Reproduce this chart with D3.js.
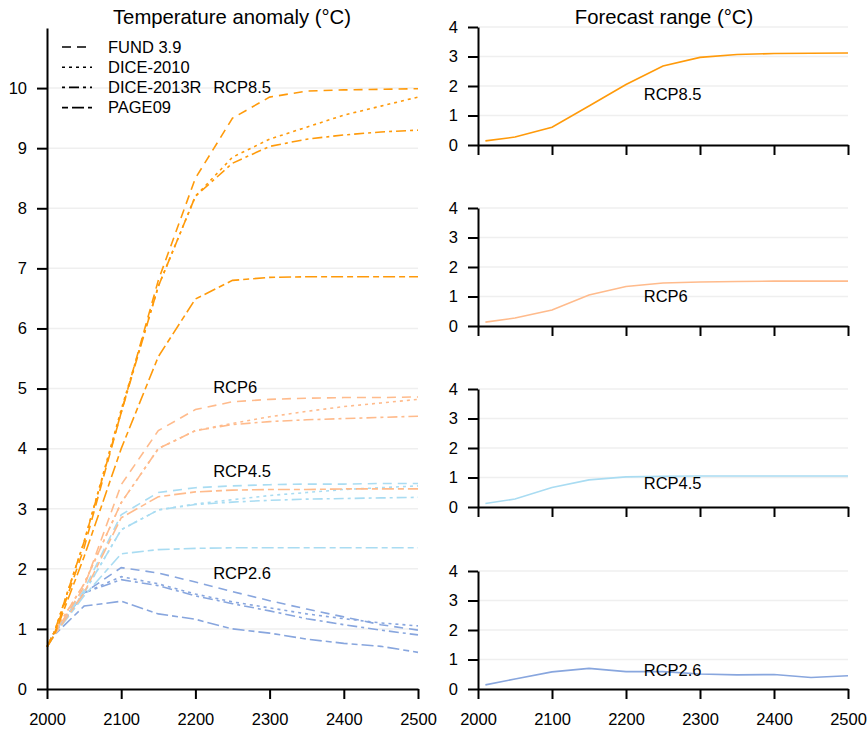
<!DOCTYPE html>
<html>
<head>
<meta charset="utf-8">
<script src="https://cdn.jsdelivr.net/npm/d3@7"></script>
<style>
  body { margin: 0; background: #fff; }
  svg { font-family: "Liberation Sans", Arial, sans-serif; }
</style>
</head>
<body>
<div id="chart"></div>
<script>
let width = 868;
let height = 730;

// data
let years = [2000, 2010, 2050, 2100, 2150, 2200, 2250, 2300, 2350, 2400, 2450, 2500];
let rangeYears = [2010, 2050, 2100, 2150, 2200, 2250, 2300, 2350, 2400, 2450, 2500];
let models = ["FUND 3.9", "DICE-2010", "DICE-2013R", "PAGE09"];
let scenarios = ["RCP8.5", "RCP6", "RCP4.5", "RCP2.6"];

// temperature anomaly, one row per model (same order as models)
let rcp85 = [
  [0.7, 0.92, 2.35, 4.6, 6.8, 8.5, 9.5, 9.85, 9.95, 9.97, 9.98, 9.99],
  [0.7, 0.95, 2.45, 4.65, 6.7, 8.2, 8.85, 9.15, 9.35, 9.55, 9.7, 9.85],
  [0.7, 0.95, 2.45, 4.6, 6.7, 8.2, 8.75, 9.03, 9.15, 9.22, 9.27, 9.3],
  [0.7, 0.9, 2.2, 4.0, 5.53, 6.49, 6.8, 6.85, 6.86, 6.86, 6.86, 6.86]
];
let rcp6 = [
  [0.7, 0.92, 1.7, 3.4, 4.3, 4.65, 4.78, 4.82, 4.84, 4.85, 4.85, 4.86],
  [0.7, 0.95, 1.75, 3.1, 4.0, 4.3, 4.42, 4.53, 4.62, 4.7, 4.76, 4.82],
  [0.7, 0.95, 1.75, 3.1, 4.0, 4.3, 4.4, 4.45, 4.48, 4.5, 4.52, 4.54],
  [0.7, 0.9, 1.6, 2.85, 3.2, 3.28, 3.31, 3.32, 3.32, 3.33, 3.33, 3.33]
];
let rcp45 = [
  [0.7, 0.92, 1.65, 2.9, 3.27, 3.35, 3.38, 3.4, 3.41, 3.41, 3.42, 3.42],
  [0.7, 0.95, 1.6, 2.65, 2.98, 3.08, 3.15, 3.22, 3.27, 3.32, 3.35, 3.38],
  [0.7, 0.95, 1.6, 2.65, 2.98, 3.07, 3.11, 3.14, 3.16, 3.17, 3.18, 3.19],
  [0.7, 0.9, 1.55, 2.25, 2.32, 2.34, 2.35, 2.35, 2.35, 2.35, 2.35, 2.35]
];
let rcp26 = [
  [0.7, 0.92, 1.6, 2.02, 1.93, 1.78, 1.62, 1.47, 1.33, 1.2, 1.07, 0.98],
  [0.7, 0.95, 1.6, 1.87, 1.75, 1.58, 1.45, 1.35, 1.25, 1.17, 1.1, 1.05],
  [0.7, 0.95, 1.6, 1.82, 1.72, 1.55, 1.42, 1.3, 1.17, 1.07, 0.98, 0.9],
  [0.7, 0.9, 1.38, 1.46, 1.25, 1.16, 1.0, 0.93, 0.83, 0.76, 0.71, 0.61]
];

// forecast range
let range85 = [0.14, 0.27, 0.6, 1.32, 2.05, 2.68, 2.97, 3.07, 3.1, 3.11, 3.12];
let range6 = [0.13, 0.27, 0.54, 1.05, 1.34, 1.46, 1.49, 1.51, 1.52, 1.52, 1.52];
let range45 = [0.12, 0.27, 0.66, 0.92, 1.02, 1.04, 1.05, 1.05, 1.05, 1.05, 1.05];
let range26 = [0.14, 0.34, 0.58, 0.7, 0.59, 0.59, 0.51, 0.48, 0.49, 0.39, 0.45];

// label anchors [year, value] for the scenario names
let leftLabelAt = [[2224, 10.02], [2224, 5.03], [2224, 3.63], [2224, 1.93]];
let rightLabelAt = [[2224, 1.72], [2224, 1.02], [2224, 0.8], [2224, 0.65]];

let leftTicks = d3.range(0, 11);
let rightTicks = [0, 1, 2, 3, 4];
let xTicks = [2000, 2100, 2200, 2300, 2400, 2500];

let colors = ["#ff9a0a", "#ffbb8c", "#a9dcf2", "#88a6de"];
let dashes = ["9,6", "3,4", "10,4,3,4", "12,4,6,4"];
let legendOffsets = [0, 0, 14, 16];

let svg = d3.select("#chart")
  .append("svg")
    .attr("width", width)
    .attr("height", height);

let line = d3.line();

// ---------- left panel ----------
let xLeft = d3.scaleLinear().domain([2000, 2500]).range([47, 418]);
let yLeft = d3.scaleLinear().domain([0, 11]).range([689, 28]);

svg.append("g")
  .selectAll("line")
  .data(leftTicks.filter(d => d > 0))
  .enter()
  .append("line")
    .attr("x1", xLeft(2000))
    .attr("x2", xLeft(2500))
    .attr("y1", d => yLeft(d))
    .attr("y2", d => yLeft(d))
    .attr("stroke", "#efefef")
    .attr("stroke-width", 1.5);

let allLeft = [rcp85, rcp6, rcp45, rcp26];
// draw lowest scenario first
for (let s = 3; s >= 0; s--) {
  allLeft[s].forEach(function(vals, m) {
    svg.append("path")
      .attr("d", line(vals.map((v, i) => [xLeft(years[i]), yLeft(v)])))
      .attr("fill", "none")
      .attr("stroke", colors[s])
      .attr("stroke-width", 1.6)
      .attr("stroke-dasharray", dashes[m]);
  });
}

function styleAxis(g) {
  g.selectAll(".domain").attr("stroke", "#000").attr("stroke-width", 2);
  g.selectAll(".tick line").attr("stroke", "#000").attr("stroke-width", 2);
  g.selectAll(".tick text").attr("fill", "#000").style("font-size", "16.5px");
}

let yAxisLeft = svg.append("g")
  .attr("transform", "translate(47,0)")
  .call(d3.axisLeft(yLeft).tickValues(leftTicks).tickSize(10).tickSizeOuter(0).tickPadding(10));
styleAxis(yAxisLeft);

let xAxisLeft = svg.append("g")
  .attr("transform", "translate(0,689)")
  .call(d3.axisBottom(xLeft).tickValues(xTicks).tickFormat(d3.format("d")).tickSize(10).tickSizeOuter(0).tickPadding(14));
styleAxis(xAxisLeft);

svg.append("g")
  .selectAll("text")
  .data(scenarios)
  .enter()
  .append("text")
    .attr("x", (d, i) => xLeft(leftLabelAt[i][0]))
    .attr("y", (d, i) => yLeft(leftLabelAt[i][1]))
    .attr("dy", "0.35em")
    .style("font-size", "16.5px")
    .text(d => d);

// legend
let legend = svg.append("g").attr("class", "legend");
models.forEach(function(name, i) {
  let ly = 47 + i * 20.2;
  legend.append("line")
    .attr("x1", 62).attr("x2", 92)
    .attr("y1", ly).attr("y2", ly)
    .attr("stroke", "#000")
    .attr("stroke-width", 1.6)
    .attr("stroke-dasharray", dashes[i])
    .attr("stroke-dashoffset", legendOffsets[i]);
  legend.append("text")
    .attr("x", 108)
    .attr("y", ly)
    .attr("dy", "0.35em")
    .style("font-size", "16.5px")
    .text(name);
});

svg.append("text")
  .attr("x", 232)
  .attr("y", 24)
  .attr("text-anchor", "middle")
  .style("font-size", "20.3px")
  .text("Temperature anomaly (°C)");

// ---------- right panels ----------
let xRight = d3.scaleLinear().domain([2000, 2500]).range([478, 848]);
let ranges = [range85, range6, range45, range26];
let bottoms = [145, 326, 507, 689];

ranges.forEach(function(vals, p) {
  let yR = d3.scaleLinear().domain([0, 4]).range([bottoms[p], bottoms[p] - 118]);

  svg.append("g")
    .selectAll("line")
    .data(rightTicks.filter(d => d > 0))
    .enter()
    .append("line")
      .attr("x1", xRight(2000))
      .attr("x2", xRight(2500))
      .attr("y1", d => yR(d))
      .attr("y2", d => yR(d))
      .attr("stroke", "#efefef")
      .attr("stroke-width", 1.5);

  svg.append("path")
    .attr("d", line(vals.map((v, i) => [xRight(rangeYears[i]), yR(v)])))
    .attr("fill", "none")
    .attr("stroke", colors[p])
    .attr("stroke-width", 1.6);

  let ya = svg.append("g")
    .attr("transform", "translate(478,0)")
    .call(d3.axisLeft(yR).tickValues(rightTicks).tickFormat(d3.format("d")).tickSize(10).tickSizeOuter(0).tickPadding(10));
  styleAxis(ya);

  let xa = svg.append("g")
    .attr("transform", "translate(0," + bottoms[p] + ")")
    .call(d3.axisBottom(xRight).tickValues(xTicks).tickFormat(p == 3 ? d3.format("d") : "").tickSize(10).tickSizeOuter(0).tickPadding(14));
  styleAxis(xa);

  svg.append("text")
    .attr("x", xRight(rightLabelAt[p][0]))
    .attr("y", yR(rightLabelAt[p][1]))
    .attr("dy", "0.35em")
    .style("font-size", "16.5px")
    .text(scenarios[p]);
});

svg.append("text")
  .attr("x", 664)
  .attr("y", 24)
  .attr("text-anchor", "middle")
  .style("font-size", "20.3px")
  .text("Forecast range (°C)");
</script>
</body>
</html>
